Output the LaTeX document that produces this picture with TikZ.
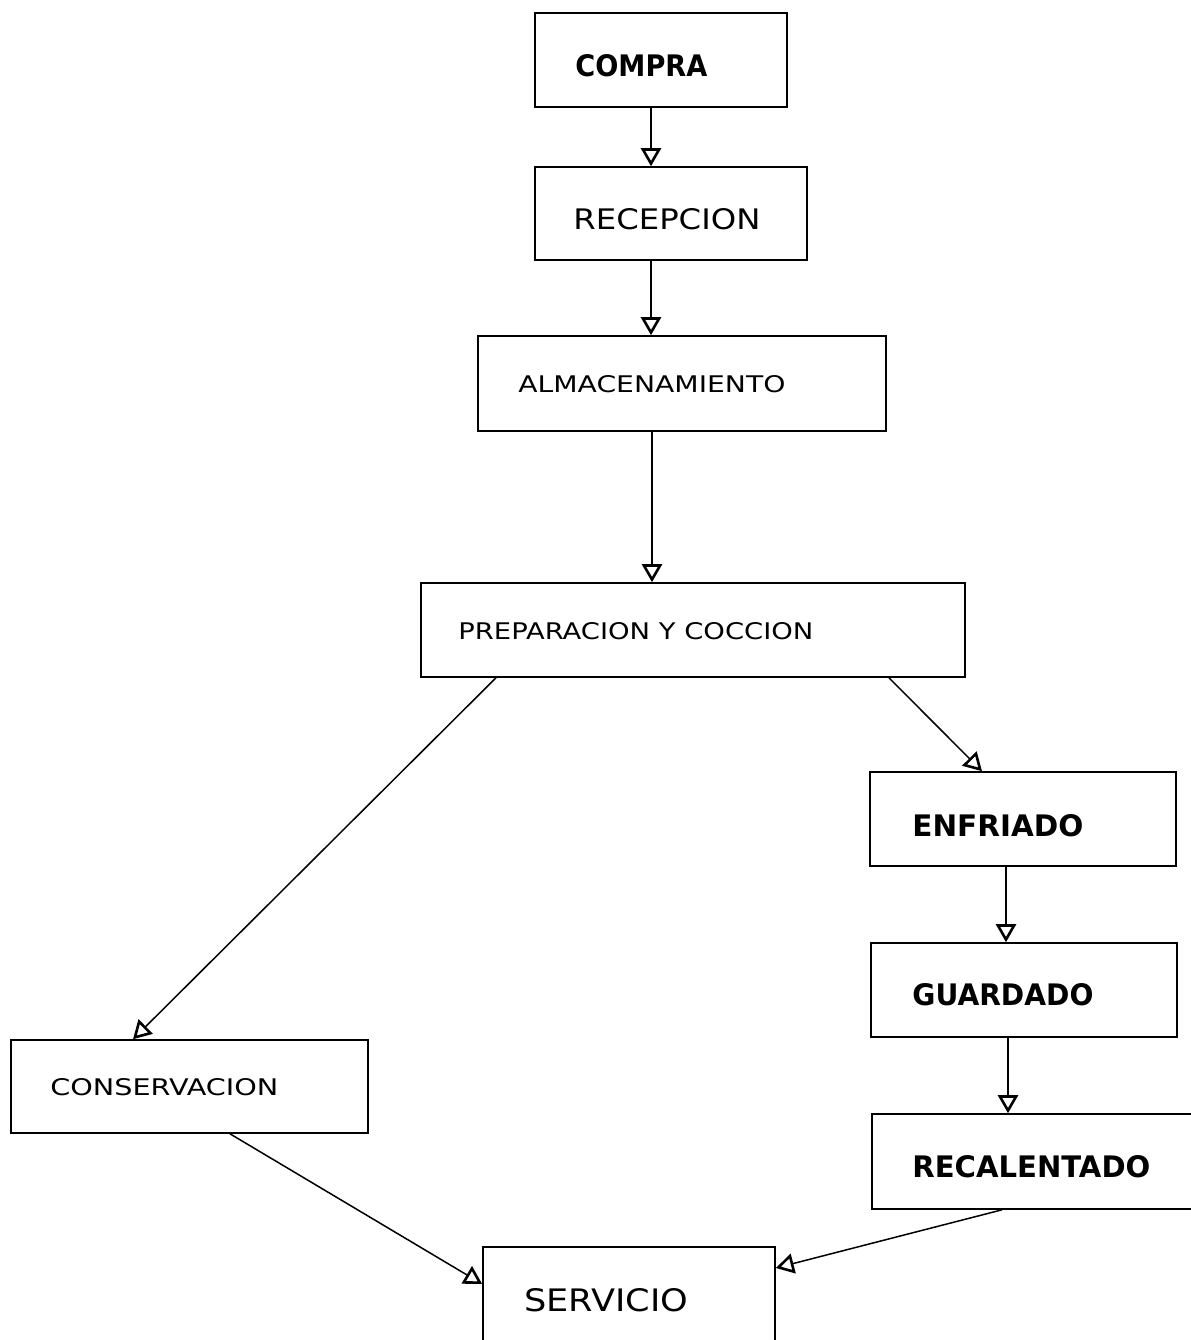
\documentclass[tikz,border=0pt]{standalone}
\usepackage{fontspec}
\usepackage{graphicx}
\setmainfont{DejaVu Sans}
\usetikzlibrary{arrows.meta}
\tikzset{
  box/.style={draw, line width=0.8pt, inner sep=0pt},
  lbl/.style={anchor=west, inner sep=0pt},
  conn/.style={line width=0.75pt, -{Triangle[open, length=9pt, width=10pt, line width=1.3pt]}}
}
\newcommand\lab[3]{\resizebox{#1pt}{#2pt}{#3}}
\begin{document}
\begin{tikzpicture}[x=0.5pt, y=-0.5pt]
\useasboundingbox (0,0) rectangle (1190,1340);
% boxes (centre, size in pt = px/2)
\node[box, minimum width=126pt, minimum height=47pt] (compra) at (661,60) {};
\node[box, minimum width=136pt, minimum height=46.5pt] (recep) at (671,213.5) {};
\node[box, minimum width=204pt, minimum height=47.5pt] (almac) at (682,383.5) {};
\node[box, minimum width=272pt, minimum height=47pt] (prep) at (693,630) {};
\node[box, minimum width=153pt, minimum height=47pt] (enfr) at (1023,819) {};
\node[box, minimum width=153pt, minimum height=47pt] (guard) at (1024,990) {};
\node[box, minimum width=164pt, minimum height=47.5pt] (recal) at (1036,1161.5) {};
\node[box, minimum width=178.5pt, minimum height=46.5pt] (conserv) at (189.5,1086.5) {};
\node[box, minimum width=146pt, minimum height=51.5pt] (serv) at (629,1298.5) {};
% labels
\node[lbl] (compraT) at (575,66) {\lab{66}{11}{\bfseries COMPRA}};
\node[lbl] (recepT) at (573,219) {\lab{93.5}{10.5}{RECEPCION}};
\node[lbl] (almacT) at (518,384) {\lab{133.5}{8.5}{ALMACENAMIENTO}};
\node[lbl] (prepT) at (458,631) {\lab{177.5}{8.5}{PREPARACION Y COCCION}};
\node[lbl] (enfrT) at (912,826) {\lab{85.5}{11}{\bfseries ENFRIADO}};
\node[lbl] (guardT) at (912,995) {\lab{90.5}{11}{\bfseries GUARDADO}};
\node[lbl] (recalT) at (912,1167) {\lab{119}{11}{\bfseries RECALENTADO}};
\node[lbl] (conservT) at (50,1087) {\lab{114}{8.5}{CONSERVACION}};
\node[lbl] (servT) at (524,1300) {\lab{82}{11.5}{SERVICIO}};
% connectors
\draw[conn] (651,0 |- compra.south) -- (651,0 |- recep.north);
\draw[conn] (651,0 |- recep.south) -- (651,0 |- almac.north);
\draw[conn] (652,0 |- almac.south) -- (652,0 |- prep.north);
\draw[conn] (prep.south -| 889,0) -- (enfr.north -| 982,0);
\draw[conn] (prep.south -| 496,0) -- (conserv.north -| 133,0);
\draw[conn] (1006,0 |- enfr.south) -- (1006,0 |- guard.north);
\draw[conn] (1008,0 |- guard.south) -- (1008,0 |- recal.north);
\draw[conn] (conserv.south -| 230,0) -- (serv.west |- 0,1284);
\draw[conn] (recal.south -| 1002,0) -- (serv.east |- 0,1268);
\end{tikzpicture}
\end{document}
